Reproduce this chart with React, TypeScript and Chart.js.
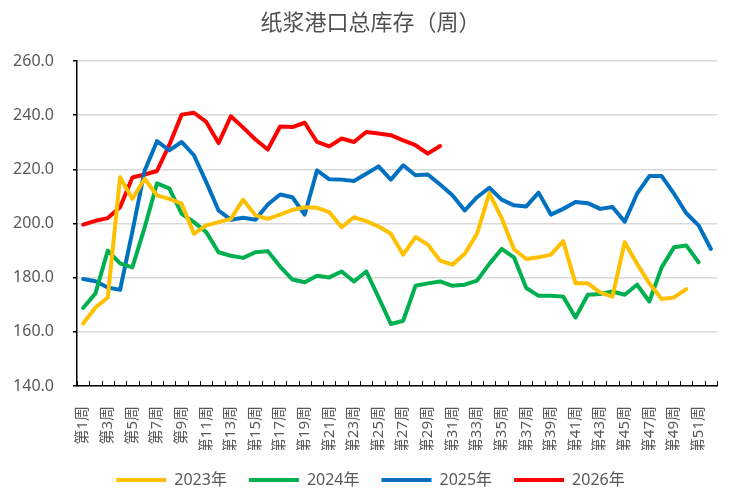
import React, { useEffect, useRef } from 'react';
import Chart from 'chart.js/auto';

// week labels 第1周 ... 第52周
const weeks: string[] = Array.from({ length: 52 }, (_, i) => `第${i + 1}周`);

const yAxisMin = 140;
const yAxisMax = 260;
const yAxisStep = 20;

const series2023 = [
  163.1, 169, 172.7, 217.1, 209.1, 216.5, 210.4, 209.1, 207.3, 196.2,
  199.3, 200.5, 201.7, 208.8, 203, 201.7, 203.3, 205, 206, 205.8,
  204.2, 198.6, 202.3, 200.9, 198.9, 196.2, 188.5, 195, 192.2, 186.3,
  184.8, 188.8, 196.2, 211.2, 202, 190.5, 186.9, 187.5, 188.5, 193.5,
  177.9, 177.9, 174.6, 173, 193.1, 185.1, 177.9, 172.1, 172.7, 175.8,
];

const series2024 = [
  168.8, 174.2, 190, 185.3, 183.8, 198.6, 214.8, 213, 203.6, 200.5,
  196.8, 189.4, 188.1, 187.3, 189.4, 189.8, 184.1, 179.3, 178.3, 180.7,
  180.1, 182.3, 178.6, 182.3, 172.7, 162.9, 164.1, 177, 177.9, 178.6,
  177, 177.4, 178.9, 185.1, 190.6, 187.5, 176.2, 173.3, 173.3, 173,
  165.3, 173.7, 174, 174.9, 173.7, 177.4, 171.2, 183.8, 191.2, 191.9, 185.7,
];

const series2025 = [
  179.5, 178.7, 176.4, 175.5, 197, 219.6, 230.4, 227, 230.1, 225.2,
  215.3, 204.8, 201.4, 202.1, 201.4, 207, 210.7, 209.7, 203.3, 219.6,
  216.3, 216.2, 215.7, 218.4, 221.1, 216.2, 221.5, 217.8, 218.1, 214.4,
  210.4, 204.8, 209.7, 213.2, 208.8, 206.7, 206.3, 211.4, 203.3, 205.4,
  207.9, 207.5, 205.4, 206.1, 200.7, 211, 217.5, 217.5, 211, 203.8, 199.3, 190.6,
];

const series2026 = [
  199.6, 201, 202, 206, 217, 218.1, 219.4, 229, 240.2, 240.9,
  237.5, 229.7, 239.6, 235.4, 231, 227.3, 235.8, 235.6, 237.2, 230.1,
  228.5, 231.4, 230.1, 233.8, 233.2, 232.6, 230.7, 228.9, 225.8, 228.6,
];

const FONT = "'Noto Sans', 'Noto Sans CJK SC', sans-serif";
const CJK = "'Noto Sans CJK SC', sans-serif";
const TEXT = '#595959';

// small tick marks on the inner side of the category axis, between categories
const innerTicks = {
  id: 'innerTicks',
  afterDraw(chart: any) {
    const x = chart.scales.x;
    const n = weeks.length;
    const ctx = chart.ctx;
    ctx.save();
    ctx.strokeStyle = '#000';
    ctx.lineWidth = 1;
    ctx.beginPath();
    for (let i = 0; i <= n; i++) {
      const px = Math.round(x.left + (i * x.width) / n) + 0.5;
      ctx.moveTo(px, x.top);
      ctx.lineTo(px, x.top - 5);
    }
    ctx.stroke();
    ctx.restore();
  },
};

const line = (label: string, data: number[], color: string) => ({
  label,
  data,
  borderColor: color,
  backgroundColor: color,
  borderWidth: 4,
  borderCapStyle: 'round' as const,
  borderJoinStyle: 'round' as const,
  pointRadius: 0,
  pointHoverRadius: 0,
  tension: 0,
});

const App: React.FC = () => {
  const canvasRef = useRef<HTMLCanvasElement>(null);

  useEffect(() => {
    document.body.style.margin = '0';
    const ctx = canvasRef.current!.getContext('2d')!;
    const chart = new Chart(ctx, {
      type: 'line',
      data: {
        labels: weeks,
        datasets: [
          line('2023年', series2023, '#FFC000'),
          line('2024年', series2024, '#00B050'),
          line('2025年', series2025, '#0070C0'),
          line('2026年', series2026, '#FF0000'),
        ],
      },
      options: {
        animation: false,
        responsive: false,
        layout: { padding: { left: 11, right: 11, top: 0, bottom: 0 } },
        plugins: {
          title: {
            display: true,
            text: '纸浆港口总库存（周）',
            color: '#505050',
            font: { family: CJK, size: 22, weight: 'normal' },
            padding: { top: 8, bottom: 26.6 },
          },
          legend: {
            position: 'bottom',
            labels: {
              usePointStyle: true,
              pointStyle: 'line',
              pointStyleWidth: 50,
              color: TEXT,
              font: { family: FONT, size: 16 },
              padding: 22,
            },
          },
          tooltip: { enabled: false },
        },
        scales: {
          x: {
            offset: true,
            grid: { display: false, offset: true },
            border: { display: true, color: '#000', width: 1.5 },
            afterFit: (scale: any) => {
              scale.height = 64;
            },
            ticks: {
              autoSkip: false,
              minRotation: 90,
              maxRotation: 90,
              color: TEXT,
              font: { family: FONT, size: 15 },
              padding: 12,
              callback: (_v: any, i: number) => (i % 2 === 0 ? weeks[i] : ''),
            },
          },
          y: {
            min: yAxisMin,
            max: yAxisMax,
            afterFit: (scale: any) => {
              scale.width = 66;
            },
            grid: {
              color: '#D9D9D9',
              lineWidth: 1.5,
              tickColor: '#000',
              tickLength: 4,
            },
            border: { display: true, color: '#000', width: 1.5 },
            ticks: {
              stepSize: yAxisStep,
              color: TEXT,
              font: { family: FONT, size: 16 },
              padding: 19,
              callback: (v: any) => Number(v).toFixed(1),
            },
          },
        },
      },
      plugins: [innerTicks],
    });
    return () => chart.destroy();
  }, []);

  return (
    <div style={{ width: 741, height: 498, background: '#fff' }}>
      <canvas ref={canvasRef} width={741} height={498} />
    </div>
  );
};

export default App;
